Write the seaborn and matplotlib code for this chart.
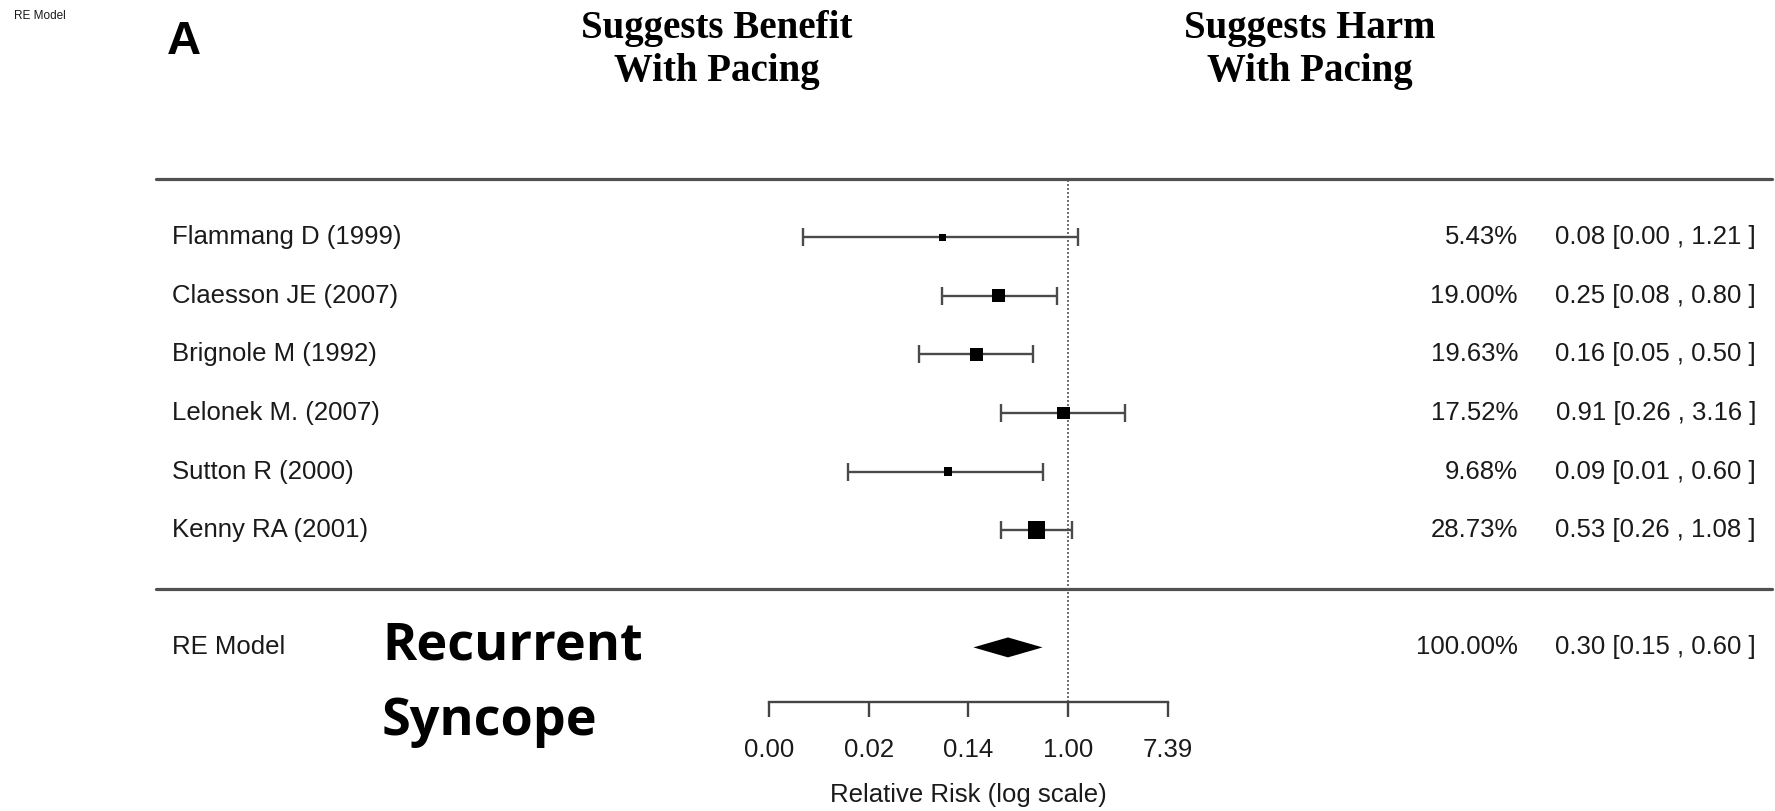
import numpy as np
import pandas as pd
import matplotlib
matplotlib.use("Agg")
import matplotlib.pyplot as plt
import matplotlib.transforms as mtransforms
from matplotlib.ticker import NullLocator
import seaborn as sns

# ---- study data -------------------------------------------------------
studies = ["Flammang D (1999)", "Claesson JE (2007)", "Brignole M (1992)",
           "Lelonek M. (2007)", "Sutton R (2000)", "Kenny RA (2001)"]
weights = [5.43, 19.00, 19.63, 17.52, 9.68, 28.73]
rr = [0.08, 0.25, 0.16, 0.91, 0.09, 0.53]
ci_low = [0.0049, 0.08, 0.05, 0.26, 0.012, 0.26]
ci_high = [1.21, 0.80, 0.50, 3.16, 0.60, 1.08]

pooled_label = "RE Model"
pooled_weight = 100.00
pooled_rr = 0.30
pooled_low = 0.15
pooled_high = 0.60

tick_exponents = [-6, -4, -2, 0, 2]
axis_title = "Relative Risk (log scale)"
benefit_title = "Suggests Benefit\nWith Pacing"
harm_title = "Suggests Harm\nWith Pacing"
panel_letter = "A"
outcome_lines = ["Recurrent", "Syncope"]

# ---- figure setup ------------------------------------------------------
sns.set_theme(style="white")
plt.rcParams["font.family"] = ["Liberation Sans", "DejaVu Sans"]

W, H = 1775, 811
fig = plt.figure(figsize=(W / 100, H / 100), dpi=100)
ax = fig.add_axes([0, 0, 1, 1])
ax.patch.set_alpha(0)

# pixel geometry of the forest panel
x_zero_px = 1068.0      # position of RR = 1
px_per_log = 49.85      # pixels per natural-log unit
row_px = 58.6           # vertical distance between study rows
k = len(studies)
top_rule_px = 178.6     # y pixel (from top) of row k + 1


def log_at(px):
    return (px - x_zero_px) / px_per_log


def row_at(py):
    return (k + 1) - (py - top_rule_px) / row_px


ax.set_xscale("log")
ax.set_xlim(np.exp(log_at(0)), np.exp(log_at(W)))
ax.set_ylim(row_at(H), row_at(0))

df = pd.DataFrame({
    "study": studies,
    "rr": rr,
    "lo": ci_low,
    "hi": ci_high,
    "weight": weights,
    "row": np.arange(k, 0, -1),
})
w = df["weight"]
side_pt = (7.0 + 10.5 * (w - w.min()) / (w.max() - w.min())) * 0.72
df["area"] = side_pt ** 2

ink = "#1a1a1a"
line_grey = "#4a4a4a"
axis_row = row_at(702)

# horizontal rules above the studies and above the pooled estimate
for yr in (k + 1, 0):
    ax.axhline(yr, xmin=156 / W, xmax=1772 / W, color="#505050", lw=2.3,
               zorder=1)

# reference line at RR = 1
ax.vlines(1.0, axis_row, k + 1, colors="#555555", linestyles=(0, (1.2, 1.2)),
          lw=1.2, zorder=1)

# confidence intervals
ax.errorbar(df["rr"], df["row"],
            xerr=[df["rr"] - df["lo"], df["hi"] - df["rr"]],
            fmt="none", ecolor=line_grey, elinewidth=1.7, capsize=6.5,
            capthick=1.7, zorder=2)

# study estimates, square size by weight
sns.scatterplot(data=df, x="rr", y="row", size="area",
                sizes=(df["area"].min(), df["area"].max()),
                size_norm=(df["area"].min(), df["area"].max()),
                marker="s", color="black", linewidth=0, legend=False,
                ax=ax, zorder=3)

# pooled estimate diamond
pooled_row = -1
dh = 0.17
ax.fill([pooled_low, pooled_rr, pooled_high, pooled_rr],
        [pooled_row, pooled_row + dh, pooled_row, pooled_row - dh],
        color="black", lw=0, zorder=3)

# x axis drawn only over the tick range
for side in ("left", "right", "top"):
    ax.spines[side].set_visible(False)
ax.spines["bottom"].set_position(("data", axis_row))
ticks = np.exp(tick_exponents)
ax.spines["bottom"].set_bounds(ticks[0], ticks[-1])
ax.spines["bottom"].set_color("#444444")
ax.spines["bottom"].set_linewidth(1.7)
ax.set_xticks(ticks)
ax.set_xticklabels([f"{t:.2f}" for t in ticks])
ax.xaxis.set_minor_locator(NullLocator())
ax.tick_params(axis="x", which="major", direction="out", length=11,
               width=1.7, color="#444444", pad=15, labelsize=18.5,
               labelcolor=ink, bottom=True)
ax.set_yticks([])
ax.set_xlabel("")
ax.set_ylabel("")

ax.text(np.exp(np.mean(tick_exponents)), row_at(795), axis_title,
        ha="center", va="center", fontsize=18.5, color=ink)

# left labels and right-hand columns
blend = mtransforms.blended_transform_factory(ax.transAxes, ax.transData)
label_rows = list(df["row"]) + [pooled_row]
label_names = studies + [pooled_label]
weight_vals = weights + [pooled_weight]
est_vals = list(zip(rr + [pooled_rr], ci_low + [pooled_low],
                    ci_high + [pooled_high]))
for yr, name, wt, (e, lo, hi) in zip(label_rows, label_names, weight_vals,
                                     est_vals):
    ax.text(172 / W, yr, name, transform=blend, ha="left", va="center",
            fontsize=18.5, color=ink)
    ax.text(1518 / W, yr, f"{wt:.2f}%", transform=blend, ha="right",
            va="center", fontsize=18.5, color=ink)
    ax.text(1756 / W, yr, f"{e:.2f} [{lo:.2f} , {hi:.2f} ]", transform=blend,
            ha="right", va="center", fontsize=18.5, color=ink)

# headings
fig.text(13.6 / W, 1 - 16 / H, pooled_label, ha="left", va="center",
         fontsize=8.5, color=ink)
fig.text(167 / W, 1 - 54 / H, panel_letter, ha="left", va="baseline",
         fontsize=34, fontweight="bold", color="black")
for cx, title in ((716.6, benefit_title), (1310, harm_title)):
    fig.text(cx / W, 1 - 50 / H, title, ha="center", va="center",
             family=["Liberation Serif", "DejaVu Serif"], fontweight="bold",
             fontsize=28, linespacing=1.2, color="black")

for base_px, line in zip((660, 735), outcome_lines):
    fig.text(382 / W, 1 - base_px / H, line, ha="left", va="baseline",
             family=["Open Sans", "DejaVu Sans"], fontweight="bold",
             fontsize=37.5, color="black")

fig.savefig("out.png", dpi=100, facecolor="white")
